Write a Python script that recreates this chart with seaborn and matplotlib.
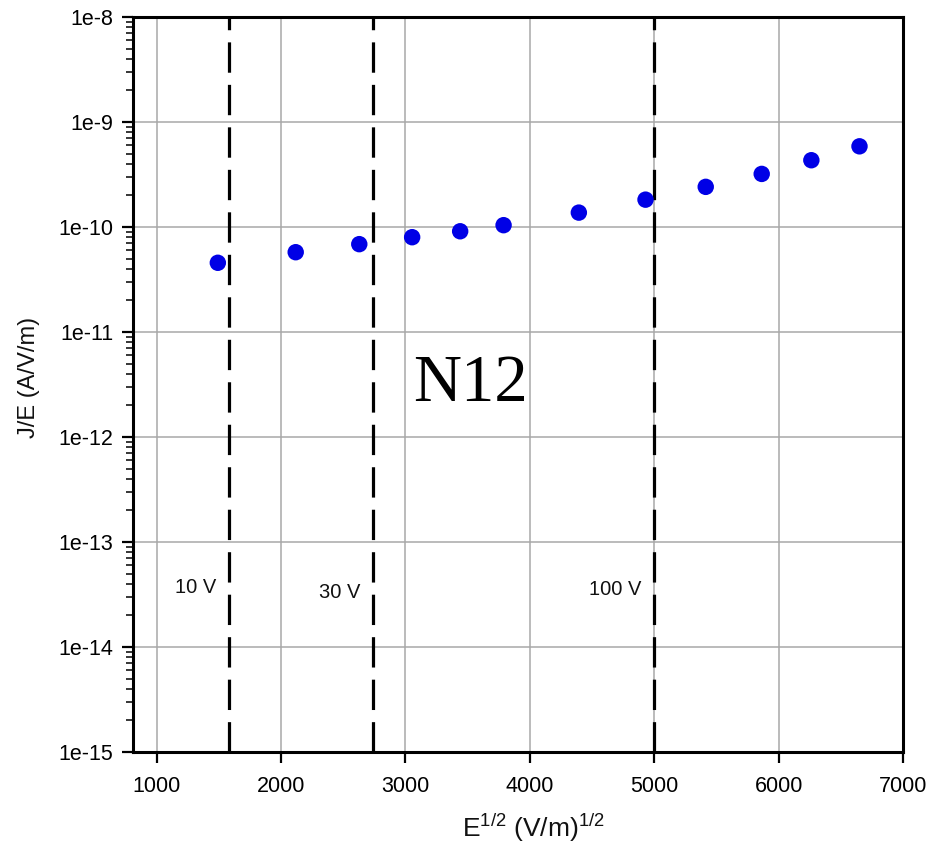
import numpy as np
import pandas as pd
import seaborn as sns
import matplotlib
matplotlib.use("Agg")
import matplotlib.pyplot as plt
from matplotlib.ticker import FixedLocator, FuncFormatter, LogLocator, NullFormatter

# sqrt of field (V/m)^1/2 and J/E (A/V/m)
e_sqrt = [1492, 2118, 2629, 3054, 3440, 3789, 4394, 4930, 5414, 5864, 6263, 6650]
j_over_e = [4.56e-11, 5.75e-11, 6.86e-11, 7.99e-11, 9.1e-11, 1.04e-10,
            1.37e-10, 1.82e-10, 2.41e-10, 3.20e-10, 4.32e-10, 5.86e-10]

# applied voltage markers
volt_labels = ["10 V", "30 V", "100 V"]
volt_x = [1581, 2739, 5000]
volt_label_y = [3.68e-14, 3.3e-14, 3.5e-14]

sample_name = "N12"

df = pd.DataFrame({"E": e_sqrt, "JE": j_over_e})

sns.set_style("white")
plt.rcParams['font.family'] = ['Liberation Sans', 'DejaVu Sans']
plt.rcParams['mathtext.fontset'] = 'custom'
plt.rcParams['mathtext.rm'] = 'Liberation Sans'

fig = plt.figure(figsize=(9.3, 8.46), dpi=100)
ax = fig.add_axes([0.143, 0.111, 0.828, 0.869])

ax.set_yscale("log")
ax.set_xlim(810, 7000)
ax.set_ylim(1e-15, 1e-8)

ax.grid(True, which="major", color="#a8a8a8", linewidth=1.1)
ax.set_axisbelow(True)

for x, lab, ly in zip(volt_x, volt_labels, volt_label_y):
    ax.axvline(x, color="black", linewidth=2.3, linestyle=(0, (9.5, 3.8)), zorder=2)
    ax.annotate(lab, xy=(x, ly), xytext=(-9, 0), textcoords="offset points",
                ha="right", va="center", fontsize=14.5, color="#111111")

sns.scatterplot(data=df, x="E", y="JE", ax=ax, color="#0000e6", s=140,
                edgecolor="none", zorder=3)

ax.text(0.4377, 0.500, sample_name, transform=ax.transAxes, ha="center", va="center",
        fontsize=48, family=["Liberation Serif", "DejaVu Serif"], color="black")

ax.xaxis.set_major_locator(FixedLocator([1000, 2000, 3000, 4000, 5000, 6000, 7000]))
ax.yaxis.set_major_locator(FixedLocator([10.0 ** k for k in range(-15, -7)]))
ax.yaxis.set_minor_locator(LogLocator(base=10, subs=np.arange(2, 10)))
ax.yaxis.set_minor_formatter(NullFormatter())
ax.yaxis.set_major_formatter(FuncFormatter(lambda v, p: f"1e{int(round(np.log10(v)))}"))

ax.tick_params(axis="both", which="major", direction="out", length=8, width=1.6,
               labelsize=15.5, colors="black", bottom=True, left=True,
               top=False, right=False, pad=6)
ax.tick_params(axis="y", which="minor", direction="out", length=5, width=1.3,
               left=True, right=False)
ax.tick_params(axis="x", which="minor", bottom=False)
ax.tick_params(axis="x", which="major", pad=9)

for s in ax.spines.values():
    s.set_color("black")
    s.set_linewidth(2.2)
    s.set_visible(True)

ax.set_xlabel(r"E$^{1/2}$ (V/m)$^{1/2}$", fontsize=19, color="#111111")
ax.set_ylabel("J/E (A/V/m)", fontsize=17, color="#111111")
ax.xaxis.set_label_coords(0.52, -0.080)
ax.yaxis.set_label_coords(-0.121, 0.51)

fig.savefig("out.png", dpi=100)
